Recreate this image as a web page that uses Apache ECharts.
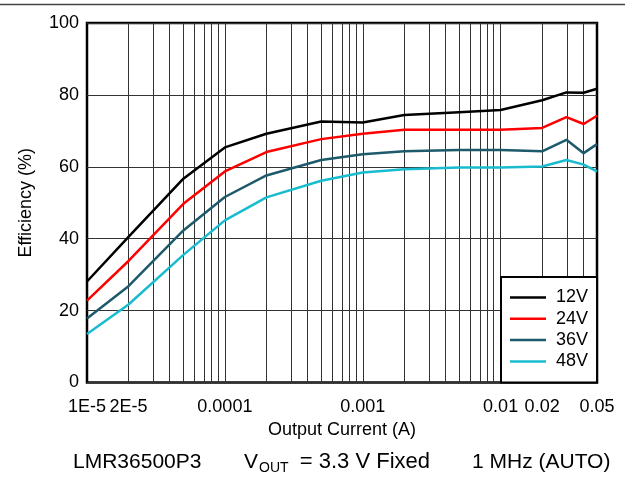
<!DOCTYPE html>
<html>
<head>
<meta charset="utf-8">
<script src="https://cdn.jsdelivr.net/npm/echarts@6/dist/echarts.min.js"></script>
<style>
html,body{margin:0;padding:0;background:#fff;}
#chart{width:625px;height:477px;}
</style>
</head>
<body>
<div id="chart"></div>
<script>
// Output current (A)
const currents = [1e-5, 2e-5, 5e-5, 1e-4, 2e-4, 5e-4, 1e-3, 2e-3, 5e-3, 1e-2, 2e-2, 3e-2, 4e-2, 5e-2];
// Efficiency (%)
const eff12V = [28.1, 40.5, 56.7, 65.4, 69.2, 72.6, 72.3, 74.4, 75.2, 75.8, 78.5, 80.7, 80.6, 81.7];
const eff24V = [22.8, 33.8, 49.7, 58.7, 64.1, 67.7, 69.2, 70.3, 70.3, 70.3, 70.8, 73.8, 71.9, 74.2];
const eff36V = [17.8, 26.8, 42.3, 51.6, 57.6, 61.9, 63.5, 64.3, 64.7, 64.7, 64.3, 67.5, 63.8, 66.3];
const eff48V = [13.5, 21.7, 35.5, 45.1, 51.5, 56.1, 58.4, 59.3, 59.8, 59.8, 60.1, 61.9, 60.6, 58.7];
const seriesNames = ['12V', '24V', '36V', '48V'];
const xTickValues = [1e-5, 2e-5, 1e-4, 1e-3, 1e-2, 2e-2, 5e-2];
const xTickLabels = ['1E-5', '2E-5', '0.0001', '0.001', '0.01', '0.02', '0.05'];
const yTicks = [0, 20, 40, 60, 80, 100];

const colors = ['#000000', '#ff0000', '#1d5a6b', '#19bccf'];
const FONT = '"Liberation Sans", Arial, sans-serif';

// log-decade grid line positions (1..9 x 10^n within range)
const gridCurrents = [];
for (let e = -5; e <= -2; e++) {
  for (let k = 1; k <= 9; k++) {
    const v = k * Math.pow(10, e);
    if (v > 1e-5 * 1.0001 && v < 5e-2 * 0.9999) gridCurrents.push(v);
  }
}
const lg = v => Math.log10(v);

const effSets = [eff12V, eff24V, eff36V, eff48V];
const series = effSets.map((arr, i) => ({
  name: seriesNames[i],
  type: 'line',
  z: 3,
  symbol: 'none',
  lineStyle: { color: colors[i], width: 2.5 },
  itemStyle: { color: colors[i] },
  data: currents.map((c, j) => [lg(c), arr[j]])
}));
series.unshift({
  name: 'grid',
  type: 'line',
  z: 1,
  symbol: 'none',
  data: [],
  silent: true,
  markLine: {
    z: 1,
    silent: true,
    symbol: ['none', 'none'],
    label: { show: false },
    animation: false,
    lineStyle: { color: '#333', width: 1, type: 'solid' },
    data: gridCurrents.map(v => ({ xAxis: lg(v) }))
  }
});

const chart = echarts.init(document.getElementById('chart'), null, { renderer: 'canvas' });
chart.setOption({
  animation: false,
  backgroundColor: '#fff',
  textStyle: { fontFamily: FONT },
  grid: {
    left: 87, top: 23, right: 28, bottom: 94.5,
    show: true, borderColor: '#000', borderWidth: 2.5, backgroundColor: 'transparent'
  },
  legend: {
    z: 10,
    data: seriesNames.map((n, i) => ({ name: n, icon: 'rect', itemStyle: { color: colors[i] } })),
    orient: 'vertical',
    left: 501, top: 277,
    padding: [11.5, 9, 12, 9],
    itemWidth: 36, itemHeight: 2.5, itemGap: 3.3,
    formatter: name => ' ' + name,
    backgroundColor: '#fff', borderColor: '#000', borderWidth: 2, borderRadius: 0,
    textStyle: { fontSize: 18, color: '#000', fontFamily: FONT, lineHeight: 18 }
  },
  xAxis: {
    type: 'value',
    min: lg(1e-5), max: lg(5e-2),
    name: 'Output Current (A)',
    nameLocation: 'middle',
    nameGap: 30,
    nameTextStyle: { fontSize: 18, color: '#000', fontFamily: FONT },
    axisLine: { show: false },
    axisTick: { show: false },
    splitLine: { show: false },
    axisLabel: {
      customValues: xTickValues.map(lg),
      fontSize: 18, color: '#000', fontFamily: FONT, margin: 16,
      showMinLabel: true, showMaxLabel: true,
      formatter: function (val) {
        let best = 0, bd = Infinity;
        xTickValues.forEach((t, i) => { const d = Math.abs(lg(t) - val); if (d < bd) { bd = d; best = i; } });
        return xTickLabels[best];
      }
    }
  },
  yAxis: {
    type: 'value',
    min: yTicks[0], max: yTicks[yTicks.length - 1], interval: 20,
    name: 'Efficiency (%)',
    nameLocation: 'middle',
    nameGap: 52,
    nameTextStyle: { fontSize: 18, color: '#000', fontFamily: FONT },
    axisLine: { show: false },
    axisTick: { show: false },
    splitLine: { show: true, lineStyle: { color: '#333', width: 1 } },
    axisLabel: { fontSize: 18, color: '#000', fontFamily: FONT, margin: 8 }
  },
  graphic: [
    { type: 'line', shape: { x1: 0, y1: 4.5, x2: 625, y2: 4.5 }, style: { stroke: '#444', lineWidth: 1.5 }, silent: true },
    { type: 'text', left: 73, top: 452, style: { text: 'LMR36500P3', font: '21px ' + FONT, fill: '#000' } },
    { type: 'text', left: 244, top: 452, style: {
        text: '{v|V}{s|OUT}',
        fill: '#000',
        rich: {
          v: { fontSize: 21, fontFamily: FONT, fill: '#000', lineHeight: 24, verticalAlign: 'top' },
          s: { fontSize: 14, fontFamily: FONT, fill: '#000', lineHeight: 14, verticalAlign: 'top', padding: [9, 0, 0, 1] }
        }
      } },
    { type: 'text', right: 195, top: 451, style: { text: '= 3.3 V Fixed', font: '22px ' + FONT, fill: '#000' } },
    { type: 'text', left: 472, top: 452, style: { text: '1 MHz (AUTO)', font: '21px ' + FONT, fill: '#000' } }
  ],
  series: series
});
</script>
</body>
</html>
